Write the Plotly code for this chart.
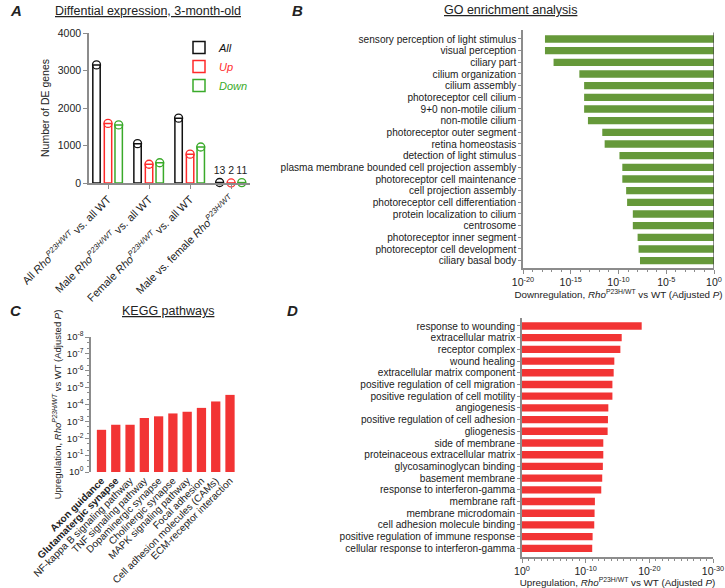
import plotly.graph_objects as go

W, H = 725, 588
FONT = "Arial, Liberation Sans, sans-serif"
GRAY = "#8c8c8c"
RED = "#f23434"
GREEN = "#66993a"

# ---------------- Panel A data ----------------
a_groups = [
    "All <i>Rho<sup>P23H/WT</sup></i> vs. all WT",
    "Male <i>Rho<sup>P23H/WT</sup></i> vs. all WT",
    "Female <i>Rho<sup>P23H/WT</sup></i> vs. all WT",
    "Male vs. female <i>Rho<sup>P23H/WT</sup></i>",
]
a_all = [3150, 1050, 1730, 13]
a_up = [1590, 500, 770, 2]
a_down = [1550, 540, 960, 11]
a_series = ["All", "Up", "Down"]
a_colors = ["#111111", "#ff2a2a", "#3aaa2a"]

# ---------------- Panel B data ----------------
b_terms = [
    "sensory perception of light stimulus", "visual perception", "ciliary part",
    "cilium organization", "cilium assembly", "photoreceptor cell cilium",
    "9+0 non-motile cilium", "non-motile cilium", "photoreceptor outer segment",
    "retina homeostasis", "detection of light stimulus",
    "plasma membrane bounded cell projection assembly",
    "photoreceptor cell maintenance", "cell projection assembly",
    "photoreceptor cell differentiation", "protein localization to cilium",
    "centrosome", "photoreceptor inner segment", "photoreceptor cell development",
    "ciliary basal body",
]
b_padj = [10 ** -17.7, 10 ** -17.7, 10 ** -16.8, 10 ** -14.1, 10 ** -13.6, 10 ** -13.6,
          10 ** -13.6, 10 ** -13.2, 10 ** -11.7, 10 ** -11.45, 10 ** -9.9, 10 ** -9.6,
          10 ** -9.6, 10 ** -9.2, 10 ** -9.1, 10 ** -8.5, 10 ** -8.5, 10 ** -8.0,
          10 ** -7.9, 10 ** -7.75]

# ---------------- Panel C data ----------------
c_paths = [
    "<b>Axon guidance</b>", "<b>Glutamatergic synapse</b>",
    "NF-kappa B signaling pathway", "TNF signaling pathway",
    "Dopaminergic synapse", "Cholinergic synapse", "MAPK signaling pathway",
    "Focal adhesion", "Cell adhesion molecules (CAMs)", "ECM-receptor interaction",
]
c_padj = [10 ** -2.5, 10 ** -2.8, 10 ** -2.8, 10 ** -3.2, 10 ** -3.3, 10 ** -3.47,
          10 ** -3.57, 10 ** -3.8, 10 ** -4.18, 10 ** -4.57]
c_ticks = [1e0, 1e-1, 1e-2, 1e-3, 1e-4, 1e-5, 1e-6, 1e-7, 1e-8]
c_ticktext = ["10<sup>0</sup>", "10<sup>-1</sup>", "10<sup>-2</sup>", "10<sup>-3</sup>",
              "10<sup>-4</sup>", "10<sup>-5</sup>", "10<sup>-6</sup>", "10<sup>-7</sup>",
              "10<sup>-8</sup>"]

# ---------------- Panel D data ----------------
d_terms = [
    "response to wounding", "extracellular matrix", "receptor complex",
    "wound healing", "extracellular matrix component",
    "positive regulation of cell migration", "positive regulation of cell motility",
    "angiogenesis", "positive regulation of cell adhesion", "gliogenesis",
    "side of membrane", "proteinaceous extracellular matrix",
    "glycosaminoglycan binding", "basement membrane",
    "response to interferon-gamma", "membrane raft", "membrane microdomain",
    "cell adhesion molecule binding", "positive regulation of immune response",
    "cellular response to interferon-gamma",
]
d_padj = [10 ** -18.8, 10 ** -15.66, 10 ** -15.45, 10 ** -14.5, 10 ** -14.4, 10 ** -14.2,
          10 ** -14.2, 10 ** -13.56, 10 ** -13.5, 10 ** -13.45, 10 ** -12.77, 10 ** -12.77,
          10 ** -12.7, 10 ** -12.6, 10 ** -12.45, 10 ** -11.45, 10 ** -11.4, 10 ** -11.35,
          10 ** -11.09, 10 ** -11.03]

b_ticks = [1e-20, 1e-15, 1e-10, 1e-5, 1e0]
b_ticktext = ["10<sup>-20</sup>", "10<sup>-15</sup>", "10<sup>-10</sup>",
              "10<sup>-5</sup>", "10<sup>0</sup>"]
d_ticks = [1e0, 1e-10, 1e-20, 1e-30]
d_ticktext = ["10<sup>0</sup>", "10<sup>-10</sup>", "10<sup>-20</sup>", "10<sup>-30</sup>"]


def px(x):
    return x / W


def py(y):
    return 1 - y / H


fig = go.Figure()

# ---- Panel A ----
a_offsets = [-0.28, 0.0, 0.26]
a_vals = [a_all, a_up, a_down]
for k, (name, col, vals) in enumerate(zip(a_series, a_colors, a_vals)):
    xs = [i + a_offsets[k] for i in range(len(a_groups))]
    fig.add_trace(go.Bar(
        x=xs, y=vals, width=0.18, name=f"<i><span style='color:{col}'>{name}</span></i>",
        marker=dict(color="white", line=dict(color=col, width=1.5)),
        xaxis="x", yaxis="y", showlegend=True,
    ))
    txt = ["", "", "", str(vals[3])]
    fig.add_trace(go.Scatter(
        x=xs, y=vals, mode="markers+text", text=txt, textposition="top center",
        textfont=dict(size=10.5, color="#222", family=FONT),
        marker=dict(symbol="circle-open", size=8, color=col, line=dict(width=1.3)),
        xaxis="x", yaxis="y", showlegend=False, hoverinfo="skip", cliponaxis=False,
    ))

# ---- Panel B ----
fig.add_trace(go.Bar(
    y=b_terms, x=[1 - p for p in b_padj], base=b_padj, orientation="h",
    marker=dict(color=GREEN, line=dict(width=0)), width=0.63,
    xaxis="x2", yaxis="y2", showlegend=False,
))

# ---- Panel C ----
fig.add_trace(go.Bar(
    x=list(range(len(c_paths))), y=[1 - p for p in c_padj], base=c_padj,
    marker=dict(color=RED, line=dict(width=0)), width=0.65,
    xaxis="x3", yaxis="y3", showlegend=False,
))

# ---- Panel D ----
fig.add_trace(go.Bar(
    y=d_terms, x=[1 - p for p in d_padj], base=d_padj, orientation="h",
    marker=dict(color=RED, line=dict(width=0)), width=0.63,
    xaxis="x4", yaxis="y4", showlegend=False,
))

axis_common = dict(showline=True, linecolor=GRAY, linewidth=1.5, ticks="outside",
                   tickcolor=GRAY, ticklen=4, tickwidth=1, showgrid=False,
                   zeroline=False, automargin=False,
                   tickfont=dict(family=FONT, size=10.5, color="#222"))
cat_tickfont = dict(family=FONT, size=10.1, color="#1a1a1a")

fig.update_layout(
    template="none",
    width=W, height=H, margin=dict(l=0, r=0, t=0, b=0, autoexpand=False),
    paper_bgcolor="white", plot_bgcolor="white",
    font=dict(family=FONT, color="#222"),
    barmode="overlay",
    showlegend=True,
    legend=dict(x=px(179), y=py(33), xanchor="left", yanchor="top",
                bgcolor="rgba(0,0,0,0)", font=dict(size=11, family=FONT),
                itemwidth=30, tracegroupgap=0),
    # A
    xaxis=dict(domain=[px(89), px(250)], range=[-0.463, 3.46], tickmode="array",
               tickvals=list(range(len(a_groups))), ticktext=a_groups, tickangle=-45,
               anchor="y", **{**axis_common, "tickfont": dict(family=FONT, size=11, color="#222")}),
    yaxis=dict(domain=[py(183), py(33)], range=[0, 4000], tickvals=[0, 1000, 2000, 3000, 4000],
               anchor="x",
               title=dict(text="Number of DE genes", font=dict(size=10.5, family=FONT), standoff=6),
               **axis_common),
    # B
    xaxis2=dict(domain=[px(523), px(714)], type="log", range=[-20, 0], tickmode="array",
                tickvals=b_ticks, ticktext=b_ticktext, anchor="y2",
                minor=dict(ticks="outside", ticklen=2, tickcolor=GRAY, dtick=1),
                title=dict(text="Downregulation, <i>Rho</i><sup>P23H/WT</sup> vs WT (Adjusted <i>P</i>)",
                           font=dict(size=9.8, family=FONT), standoff=2),
                **axis_common),
    yaxis2=dict(domain=[py(268), py(30)], range=[19.63, -0.77], anchor="x2",
                type="category", tickmode="array", tickvals=b_terms,
                **{**axis_common, "ticklen": 3, "tickfont": cat_tickfont}),
    # C
    xaxis3=dict(domain=[px(91), px(238)], range=[-0.735, 9.56], tickmode="array",
                tickvals=list(range(len(c_paths))), ticktext=c_paths, tickangle=-45,
                anchor="y3", **{**axis_common, "ticks": "", "showline": False,
                               "tickfont": dict(family=FONT, size=10, color="#222")}),
    yaxis3=dict(domain=[py(472), py(337)], type="log", range=[0, -8], tickmode="array",
                tickvals=c_ticks, ticktext=c_ticktext, anchor="x3",
                minor=dict(ticks="outside", ticklen=2, tickcolor=GRAY),
                title=dict(text="Upregulation, <i>Rho<sup>P23H/WT</sup></i> vs WT (Adjusted <i>P</i>)",
                           font=dict(size=9.5, family=FONT), standoff=4),
                **{**axis_common, "tickfont": dict(family=FONT, size=9.5, color="#222")}),
    # D
    xaxis4=dict(domain=[px(522), px(713)], type="log", range=[0, -30], tickmode="array",
                tickvals=d_ticks, ticktext=d_ticktext, anchor="y4",
                minor=dict(ticks="outside", ticklen=2, tickcolor=GRAY, dtick=1),
                title=dict(text="Upregulation, <i>Rho</i><sup>P23H/WT</sup> vs WT (Adjusted <i>P</i>)",
                           font=dict(size=9.8, family=FONT), standoff=2),
                **axis_common),
    yaxis4=dict(domain=[py(557), py(318)], range=[19.74, -0.68], anchor="x4",
                type="category", tickmode="array", tickvals=d_terms,
                **{**axis_common, "ticklen": 3, "tickfont": cat_tickfont}),
    shapes=[dict(type="line", xref="x2", yref="y2 domain", x0=1, x1=1, y0=0, y1=0.99,
                 line=dict(color="#444", width=1.2))],
)

ann = []
for txt, x, y in [("A", 8, 10), ("B", 290, 10), ("C", 8, 310), ("D", 285, 310)]:
    ann.append(dict(text=f"<b><i>{txt}</i></b>", x=px(x), y=py(y), xref="paper", yref="paper",
                    xanchor="left", yanchor="middle", showarrow=False,
                    font=dict(size=15, family=FONT, color="#222")))
for txt, x, y in [("Diffential expression, 3-month-old", 148, 11),
                  ("GO enrichment analysis", 510, 10),
                  ("KEGG pathways", 168, 311)]:
    ann.append(dict(text=f"<u>{txt}</u>", x=px(x), y=py(y), xref="paper", yref="paper",
                    xanchor="center", yanchor="middle", showarrow=False,
                    font=dict(size=12.5, family=FONT, color="#222")))
fig.update_layout(annotations=ann)

fig.write_html("out.html", config={"displayModeBar": False},
               post_script="document.body.style.margin='0px';document.body.style.padding='0px';")
